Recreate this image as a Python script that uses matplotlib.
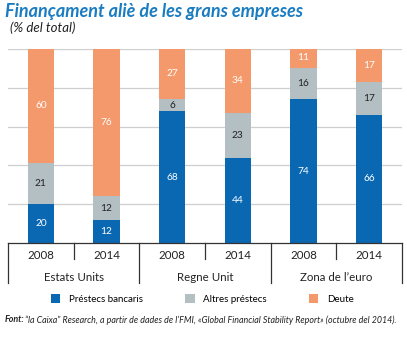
import matplotlib
matplotlib.use("Agg")
import matplotlib.pyplot as plt
from matplotlib.patches import Patch
import matplotlib.transforms as mtransforms

plt.rcParams['font.family'] = ['Lato', 'DejaVu Sans']

groups = ["Estats Units", "Regne Unit", "Zona de l\u2019euro"]
years = ["2008", "2014", "2008", "2014", "2008", "2014"]
bancaris = [20, 12, 68, 44, 74, 66]
altres = [21, 12, 6, 23, 16, 17]
deute = [60, 76, 27, 34, 11, 17]
series_names = ["Préstecs bancaris", "Altres préstecs", "Deute"]
colors = ["#0a67b2", "#b4bfc3", "#f4996b"]
text_colors = ["white", "#222222", "white"]

fig = plt.figure(figsize=(4.07, 3.38), dpi=100)
ax = fig.add_axes([8/407, 1 - 243/338, 394/407, 194/338])

x = list(range(len(years)))
bottom = [0]*len(x)
for vals, c, tc in zip([bancaris, altres, deute], colors, text_colors):
    ax.bar(x, vals, bottom=bottom, width=0.4, color=c, zorder=2)
    for xi, v, b in zip(x, vals, bottom):
        ax.text(xi, b + v/2, str(v), ha='center', va='center', color=tc,
                fontsize=7.3, zorder=3)
    bottom = [b + v for b, v in zip(bottom, vals)]

ax.set_xlim(-0.5, 5.5)
ax.set_ylim(0, 100)
ax.set_yticks([20, 40, 60, 80, 100])
ax.yaxis.grid(True, color="#cfcfcf", linewidth=0.9, zorder=0)
ax.set_axisbelow(True)
ax.tick_params(left=False, labelleft=False, bottom=False, labelbottom=False)
for s in ['top', 'right', 'left']:
    ax.spines[s].set_visible(False)
ax.spines['bottom'].set_color("#333333")
ax.spines['bottom'].set_linewidth(0.9)

trans = mtransforms.blended_transform_factory(ax.transData, ax.transAxes)
for xs in [0.5, 2.5, 4.5]:
    ax.plot([xs, xs], [0, -0.08], transform=trans, color="#333333", lw=0.9, clip_on=False)
for xs in [-0.5, 1.5, 3.5, 5.5]:
    ax.plot([xs, xs], [0, -0.205], transform=trans, color="#333333", lw=0.9, clip_on=False)
for xi, yl in zip(x, years):
    ax.text(xi, -0.062, yl, transform=trans, ha='center', va='center', fontsize=8.3, color="#222222")
for gi, g in enumerate(groups):
    ax.text(2*gi + 0.5, -0.18, g, transform=trans, ha='center', va='center', fontsize=8.3, color="#222222")

fig.text(5/407, 1 - 11/338, "Finançament aliè de les grans empreses", fontsize=13.0,
         fontweight='bold', fontstyle='italic', color="#1a7cc1", ha='left', va='center')
fig.text(10/407, 1 - 28/338, "(% del total)", fontsize=9.5, fontstyle='italic',
         color="#222222", ha='left', va='center')

handles = [Patch(facecolor=c, edgecolor='none') for c in colors]
fig.legend(handles, series_names, loc='center', bbox_to_anchor=(0.497, 1 - 299/338),
           ncol=3, frameon=False, fontsize=7.0, handlelength=1.0, handleheight=1.0,
           columnspacing=4.3, handletextpad=0.9, borderaxespad=0)

fig.text(5/407, 1 - 320/338, "Font:", fontsize=6.4, fontweight='bold', fontstyle='italic',
         color="#222222", ha='left', va='center')
fig.text(25/407, 1 - 320/338,
         "\u201cla Caixa\u201d Research, a partir de dades de l\u2019FMI, \u00abGlobal Financial Stability Report\u00bb (octubre del 2014).",
         fontsize=6.4, fontstyle='italic', color="#222222", ha='left', va='center')

fig.savefig("out.png", dpi=100)
